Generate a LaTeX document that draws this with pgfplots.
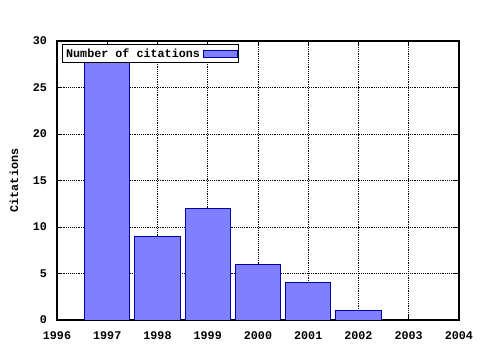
\documentclass[border=0pt]{standalone}
\usepackage{pgfplots}
\pgfplotsset{compat=1.18}
\usepackage{fontspec}
\setmainfont{Liberation Mono}
\begin{document}
\begin{tikzpicture}[font=\fontsize{8.8}{10}\selectfont\bfseries]
\useasboundingbox (0pt,0pt) rectangle (360pt,262.5pt);
\begin{axis}[
  at={(42.75pt,22.5pt)}, anchor=south west,
  scale only axis, width=301.5pt, height=209.25pt,
  xmin=1996, xmax=2004, ymin=0, ymax=30,
  xtick={1996,...,2004}, ytick={0,5,...,30},
  minor x tick num=1,
  xticklabel style={/pgf/number format/1000 sep={}, yshift=-5pt},
  yticklabel style={xshift=-4pt},
  /pgf/number format/assume math mode=true,
  ticklabel style={font=\fontsize{8.8}{10}\selectfont\bfseries},
  grid=major, major grid style={black, densely dotted, line width=0.5pt},
  axis line style={black, line width=0.8pt},
  tick style={black, line width=0.6pt},
  major tick length=4pt, minor tick length=2.5pt,
  ylabel={Citations}, ylabel style={at={(axis description cs:-0.107,0.5)}, anchor=center},
  legend style={at={(axis cs:1996.1,29.65)}, anchor=north west, draw=black, line width=0.6pt,
     inner sep=0.8pt, font=\fontsize{8.8}{10}\selectfont\bfseries, legend cell align=left,
     /tikz/every even column/.append style={column sep=4pt}},
  legend plot pos=right,
  legend image code/.code={\draw[#1] (0pt,-2.5pt) rectangle (25.5pt,2.5pt);},
]
\addplot[ybar, bar width=0.9, bar shift=0pt, fill={rgb,255:red,128;green,128;blue,255}, draw={rgb,255:red,0;green,0;blue,160}, line width=0.7pt]
  coordinates {(1997,28) (1998,9) (1999,12) (2000,6) (2001,4) (2002,1)};
\addlegendentry{Number of citations}
\end{axis}
\end{tikzpicture}
\end{document}
